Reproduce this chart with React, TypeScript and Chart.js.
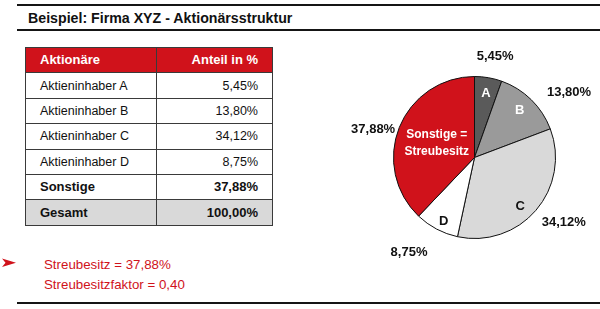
import React, { useEffect, useRef } from "react";
import { Chart, registerables } from "chart.js";

Chart.register(...registerables);

const title = "Beispiel: Firma XYZ - Aktionärsstruktur";
const headerLabels = ["Aktionäre", "Anteil in %"];
const categories = ["Aktieninhaber A", "Aktieninhaber B", "Aktieninhaber C", "Aktieninhaber D", "Sonstige"];
const shares = [5.45, 13.8, 34.12, 8.75, 37.88];
const sliceLabels = ["A", "B", "C", "D", "Sonstige =\nStreubesitz"];
const totalLabel = "Gesamt";
const totalValue = 100.0;
const freeFloatLabel = "Streubesitz";
const freeFloatFactorLabel = "Streubesitzfaktor";
const freeFloatFactor = "0,40";

const sliceColors = ["#5a5a5a", "#9a9a9a", "#d9d9d9", "#ffffff", "#d0121b"];
const innerTextColors = ["#ffffff", "#ffffff", "#111111", "#111111", "#ffffff"];
const innerRadiusFactor = [0.8, 0.81, 0.83, 0.88, 0.5];
const innerAngleShift = [0.3, -0.9, 6.5, -2.2, -0.6];
const outerRadiusFactor = [1.27, 1.42, 1.36, 1.42, 1.3];
const outerAngleShift = [1.8, 10.8, -4.8, 6.8, -6.1];

const RED = "#d0121b";
const FONT = '"Liberation Sans", Arial, Helvetica, sans-serif';

const fmt = (v: number) => v.toFixed(2).replace(".", ",") + "%";

const labelPlugin = {
  id: "sliceLabels",
  afterDatasetsDraw(chart: any) {
    const ctx = chart.ctx;
    const meta = chart.getDatasetMeta(0);
    meta.data.forEach((arc: any, i: number) => {
      const p = arc.getProps(["x", "y", "startAngle", "endAngle", "outerRadius"], true);
      const mid = (p.startAngle + p.endAngle) / 2;
      const a1 = mid + (innerAngleShift[i] * Math.PI) / 180;
      const r1 = p.outerRadius * innerRadiusFactor[i];
      const ix = p.x + r1 * Math.cos(a1);
      const iy = p.y + r1 * Math.sin(a1);
      ctx.save();
      ctx.fillStyle = innerTextColors[i];
      ctx.textAlign = "center";
      ctx.textBaseline = "middle";
      const lines = sliceLabels[i].split("\n");
      ctx.font = lines.length > 1 ? `bold 12px ${FONT}` : `bold 13px ${FONT}`;
      const lh = 16.7;
      lines.forEach((ln, k) => {
        ctx.fillText(ln, ix, iy + (k - (lines.length - 1) / 2) * lh);
      });
      const a2 = mid + (outerAngleShift[i] * Math.PI) / 180;
      const r2 = p.outerRadius * outerRadiusFactor[i];
      ctx.fillStyle = "#111111";
      ctx.font = `bold 13px ${FONT}`;
      ctx.fillText(fmt(shares[i]), p.x + r2 * Math.cos(a2), p.y + r2 * Math.sin(a2));
      ctx.restore();
    });
  },
};

function PieChart() {
  const ref = useRef<HTMLCanvasElement>(null);
  useEffect(() => {
    if (!ref.current) return;
    const chart = new Chart(ref.current, {
      type: "pie",
      data: {
        labels: categories,
        datasets: [
          {
            data: shares,
            backgroundColor: sliceColors,
            borderColor: "#111111",
            borderWidth: 1,
          },
        ],
      },
      options: {
        responsive: false,
        animation: false,
        layout: { padding: { left: 63, right: 44, top: 46, bottom: 41 } },
        plugins: {
          legend: { display: false },
          tooltip: { enabled: false },
        },
      },
      plugins: [labelPlugin],
    });
    return () => chart.destroy();
  }, []);
  return (
    <canvas
      ref={ref}
      width={270}
      height={250}
      style={{ position: "absolute", left: 330, top: 30, width: 270, height: 250 }}
    />
  );
}

export default function App() {
  const cellBase: React.CSSProperties = {
    border: "1px solid #3a3a3a",
    height: 24.4,
    padding: "0 14px",
    fontSize: 12.5,
    verticalAlign: "middle",
    lineHeight: "24px",
  };
  const lastIdx = categories.length - 1;
  return (
    <div
      style={{
        position: "fixed",
        left: 0,
        top: 0,
        width: 600,
        height: 309,
        background: "#ffffff",
        fontFamily: FONT,
        color: "#111111",
        overflow: "hidden",
      }}
    >
      <div style={{ position: "absolute", left: 17, right: 0, top: 4, height: 2, background: "#151515" }} />
      <div
        style={{
          position: "absolute",
          left: 28,
          top: 9,
          fontSize: 14.2,
          fontWeight: "bold",
          lineHeight: "18px",
          whiteSpace: "nowrap",
        }}
      >
        {title}
      </div>
      <div style={{ position: "absolute", left: 17, right: 0, top: 29, height: 2, background: "#151515" }} />

      <table
        style={{
          position: "absolute",
          left: 25,
          top: 47,
          width: 248,
          borderCollapse: "collapse",
          fontFamily: FONT,
        }}
      >
        <tbody>
          <tr style={{ background: RED, color: "#ffffff" }}>
            <td style={{ ...cellBase, width: 102, fontWeight: "bold", fontSize: 13 }}>{headerLabels[0]}</td>
            <td style={{ ...cellBase, fontWeight: "bold", fontSize: 13, textAlign: "right" }}>{headerLabels[1]}</td>
          </tr>
          {categories.map((c, i) => {
            const bold = i === lastIdx;
            return (
              <tr key={c}>
                <td style={{ ...cellBase, fontWeight: bold ? "bold" : "normal", fontSize: bold ? 13 : 12.5 }}>
                  {c}
                </td>
                <td
                  style={{
                    ...cellBase,
                    textAlign: "right",
                    fontWeight: bold ? "bold" : "normal",
                    fontSize: bold ? 13 : 12.5,
                  }}
                >
                  {fmt(shares[i])}
                </td>
              </tr>
            );
          })}
          <tr style={{ background: "#d9d9d9" }}>
            <td style={{ ...cellBase, fontWeight: "bold", fontSize: 13 }}>{totalLabel}</td>
            <td style={{ ...cellBase, fontWeight: "bold", fontSize: 13, textAlign: "right" }}>{fmt(totalValue)}</td>
          </tr>
        </tbody>
      </table>

      <svg style={{ position: "absolute", left: 1, top: 258 }} width={16} height={10}>
        <polygon points="1,0.5 15,4.8 1,9 4.5,4.8" fill={RED} />
      </svg>
      <div
        style={{
          position: "absolute",
          left: 44,
          top: 255,
          fontSize: 13.3,
          lineHeight: "19.5px",
          color: RED,
          whiteSpace: "nowrap",
        }}
      >
        <div>{`${freeFloatLabel} = ${fmt(shares[lastIdx])}`}</div>
        <div>{`${freeFloatFactorLabel} = ${freeFloatFactor}`}</div>
      </div>

      <PieChart />

      <div style={{ position: "absolute", left: 17, right: 0, top: 302, height: 2, background: "#151515" }} />
    </div>
  );
}
